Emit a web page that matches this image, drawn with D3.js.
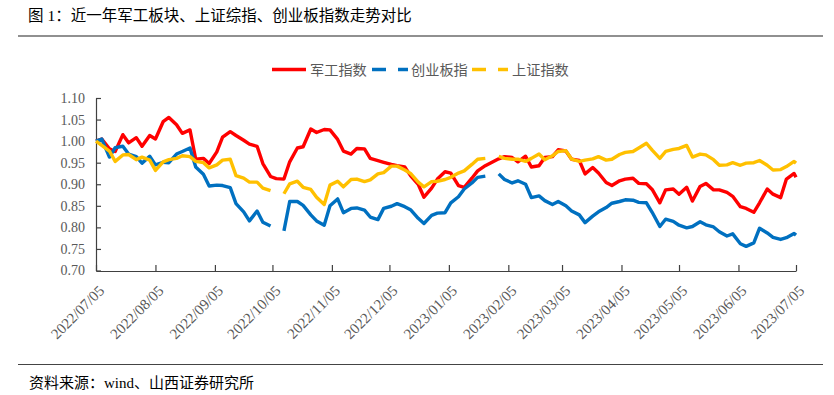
<!DOCTYPE html>
<html>
<head>
<meta charset="utf-8">
<script src="https://cdn.jsdelivr.net/npm/d3@7"></script>
<style>
  body { margin: 0; background: #fff; }
  svg { display: block; }
</style>
</head>
<body>
<div id="chart"></div>
<script>
// sample dates (Tue / Fri), null = no line drawn for that series
var dates = [
  "2022-07-05","2022-07-08","2022-07-12","2022-07-15","2022-07-19","2022-07-22","2022-07-26","2022-07-29",
  "2022-08-02","2022-08-05","2022-08-09","2022-08-12","2022-08-16","2022-08-19","2022-08-23","2022-08-26","2022-08-30",
  "2022-09-02","2022-09-06","2022-09-09","2022-09-13","2022-09-16","2022-09-20","2022-09-23","2022-09-27","2022-09-30",
  "2022-10-04","2022-10-07","2022-10-11","2022-10-14","2022-10-18","2022-10-21","2022-10-25","2022-10-28",
  "2022-11-01","2022-11-04","2022-11-08","2022-11-11","2022-11-15","2022-11-18","2022-11-22","2022-11-25","2022-11-29",
  "2022-12-02","2022-12-06","2022-12-09","2022-12-13","2022-12-16","2022-12-20","2022-12-23","2022-12-27","2022-12-30",
  "2023-01-03","2023-01-06","2023-01-10","2023-01-13","2023-01-17","2023-01-20","2023-01-24","2023-01-27","2023-01-31",
  "2023-02-03","2023-02-07","2023-02-10","2023-02-14","2023-02-17","2023-02-21","2023-02-24","2023-02-28",
  "2023-03-03","2023-03-07","2023-03-10","2023-03-14","2023-03-17","2023-03-21","2023-03-24","2023-03-28","2023-03-31",
  "2023-04-04","2023-04-07","2023-04-11","2023-04-14","2023-04-18","2023-04-21","2023-04-25","2023-04-28",
  "2023-05-02","2023-05-05","2023-05-09","2023-05-12","2023-05-16","2023-05-19","2023-05-23","2023-05-26","2023-05-30",
  "2023-06-02","2023-06-06","2023-06-09","2023-06-13","2023-06-16","2023-06-20","2023-06-23","2023-06-27","2023-06-30",
  "2023-07-04","2023-07-05"
];

// 军工指数
var junGong = [
  1.000,1.005,0.982,0.976,1.015,0.996,1.008,0.988,
  1.013,1.005,1.045,1.055,1.038,1.018,1.026,0.958,0.960,
  0.948,0.975,1.009,1.022,1.013,1.002,0.993,0.988,0.948,
  0.918,0.913,0.912,0.952,0.984,0.987,1.028,1.020,
  1.027,1.026,1.004,0.977,0.970,0.983,0.982,0.960,0.955,
  0.951,0.946,0.943,0.940,0.920,0.900,0.870,0.891,0.912,
  0.929,0.926,0.897,0.893,0.914,0.931,0.943,0.950,0.959,
  0.964,0.962,0.952,0.965,0.940,0.943,0.962,0.964,
  0.980,0.977,0.958,0.955,0.924,0.939,0.926,0.904,0.897,
  0.908,0.912,0.914,0.902,0.901,0.888,0.857,0.887,
  0.889,0.877,0.893,0.861,0.895,0.902,0.887,0.887,0.881,
  0.872,0.848,0.844,0.835,0.857,0.889,0.877,0.869,0.912,
  0.925,0.916
];

// 创业板指
var chuangYe = [
  1.000,1.005,0.963,0.985,0.988,0.970,0.964,0.949,
  0.965,0.945,0.951,0.950,0.970,0.976,0.984,0.940,0.923,
  0.896,0.898,0.897,0.892,0.855,0.836,0.815,0.838,0.812,
  0.803,null,0.792,0.860,0.860,0.851,0.829,0.815,
  0.805,0.850,0.866,0.834,0.844,0.845,0.840,0.824,0.818,
  0.844,0.849,0.855,0.848,0.841,0.821,0.809,0.828,0.833,
  0.834,0.857,0.871,0.889,0.903,0.916,0.919,null,0.924,
  0.911,0.903,0.908,0.900,0.869,0.873,0.862,0.853,
  0.860,0.850,0.838,0.829,0.811,0.826,0.836,0.846,0.856,
  0.860,0.864,0.863,0.858,0.857,0.835,0.802,0.819,
  0.814,0.805,0.799,0.802,0.813,0.806,0.801,0.790,0.780,
  0.785,0.762,0.756,0.764,0.798,0.787,0.777,0.772,0.776,
  0.786,0.782
];

// 上证指数
var shangZheng = [
  1.000,0.990,0.977,0.953,0.968,0.969,0.957,0.963,
  0.956,0.932,0.952,0.957,0.960,0.966,0.964,0.953,0.950,
  0.938,0.945,0.956,0.958,0.920,0.914,0.905,0.905,0.891,
  0.885,null,0.878,0.901,0.907,0.893,0.888,0.870,
  0.853,0.898,0.907,0.894,0.911,0.912,0.906,0.910,0.924,
  0.927,0.942,0.942,0.933,0.925,0.905,0.894,0.906,0.907,
  0.911,0.916,0.926,0.931,0.946,0.958,0.960,null,0.965,
  0.960,0.958,0.958,0.953,0.960,0.970,0.957,0.966,
  0.976,0.978,0.958,0.953,0.956,0.959,0.964,0.956,0.958,
  0.969,0.974,0.976,0.984,0.995,0.979,0.960,0.976,
  0.981,0.983,0.990,0.963,0.970,0.968,0.957,0.944,0.945,
  0.950,0.944,0.949,0.950,0.955,0.944,0.933,0.934,0.941,
  0.953,0.949
];

var seriesNames = ["军工指数", "创业板指", "上证指数"];
var seriesColors = ["#ff0000", "#0070c0", "#ffc000"];
var yTicks = [0.70, 0.75, 0.80, 0.85, 0.90, 0.95, 1.00, 1.05, 1.10];
var xTickLabels = ["2022/07/05","2022/08/05","2022/09/05","2022/10/05","2022/11/05","2022/12/05",
  "2023/01/05","2023/02/05","2023/03/05","2023/04/05","2023/05/05","2023/06/05","2023/07/05"];

var titleText = "图 1：近一年军工板块、上证综指、创业板指数走势对比";
var sourceText = "资料来源：wind、山西证券研究所";

var W = 834, H = 395;
var margin = { top: 98, right: 38, bottom: 124, left: 96 };

var parseDate = d3.timeParse("%Y-%m-%d");
var parseTick = d3.timeParse("%Y/%m/%d");
var fmtTick = d3.timeFormat("%Y/%m/%d");

var svg = d3.select("#chart").append("svg")
  .attr("width", W)
  .attr("height", H);

svg.append("rect").attr("width", W).attr("height", H).attr("fill", "#fff");

var x = d3.scaleTime()
  .domain([parseDate(dates[0]), parseDate(dates[dates.length - 1])])
  .range([margin.left, W - margin.right]);

var y = d3.scaleLinear()
  .domain([0.70, 1.10])
  .range([H - margin.bottom - 0.5, margin.top]);

var serifCJK = "'Liberation Serif', 'Noto Sans CJK SC', serif";

// title + rules
svg.append("text")
  .attr("x", 28)
  .attr("y", 21)
  .attr("font-family", serifCJK)
  .attr("font-size", "15.5px")
  .attr("fill", "#000")
  .text(titleText);

svg.append("line")
  .attr("x1", 18).attr("x2", 823)
  .attr("y1", 36).attr("y2", 36)
  .attr("stroke", "#222").attr("stroke-width", 1.2);

svg.append("line")
  .attr("x1", 18).attr("x2", 823)
  .attr("y1", 364.5).attr("y2", 364.5)
  .attr("stroke", "#444").attr("stroke-width", 1.2);

svg.append("text")
  .attr("x", 29)
  .attr("y", 388)
  .attr("font-family", serifCJK)
  .attr("font-size", "15px")
  .attr("fill", "#000")
  .text(sourceText);

// axes
var yAxis = d3.axisLeft(y)
  .tickValues(yTicks)
  .tickFormat(d3.format(".2f"))
  .tickSizeInner(-5)
  .tickSizeOuter(0)
  .tickPadding(11);

var gy = svg.append("g")
  .attr("transform", "translate(" + margin.left + ",0)")
  .call(yAxis);

var xAxis = d3.axisBottom(x)
  .tickValues(xTickLabels.map(function(s) { return parseTick(s); }))
  .tickFormat(fmtTick)
  .tickSizeInner(-6)
  .tickSizeOuter(0);

var gx = svg.append("g")
  .attr("transform", "translate(0," + (H - margin.bottom) + ")")
  .call(xAxis);

[gx, gy].forEach(function(g) {
  g.select(".domain").attr("stroke", "#404040").attr("stroke-width", 1.2);
  g.selectAll(".tick line").attr("stroke", "#404040").attr("stroke-width", 1.2);
  g.selectAll(".tick text")
    .attr("fill", "#595959")
    .attr("font-family", "'Liberation Serif', serif")
    .attr("font-size", "14px");
});

gx.selectAll("text")
  .attr("x", 0)
  .attr("y", 0)
  .attr("dy", "0.35em")
  .attr("font-size", "15px")
  .attr("text-anchor", "end")
  .attr("transform", "translate(5,17) rotate(-45)");

// lines
var allSeries = [junGong, chuangYe, shangZheng];

allSeries.forEach(function(vals, i) {
  var pts = dates.map(function(d, j) { return { date: parseDate(d), v: vals[j] }; });
  var line = d3.line()
    .defined(function(d) { return d.v != null; })
    .x(function(d) { return x(d.date); })
    .y(function(d) { return y(d.v); });
  // red series is drawn through gaps, the others break
  if (i === 0) pts = pts.filter(function(d) { return d.v != null; });
  svg.append("path")
    .datum(pts)
    .attr("fill", "none")
    .attr("stroke", seriesColors[i])
    .attr("stroke-width", 3.4)
    .attr("stroke-linejoin", "round")
    .attr("d", line);
});

// legend
var legendY = 69.5;
var legend = svg.append("g").attr("class", "legend");
var legendItems = [
  { segs: [[272, 306]], tx: 310 },
  { segs: [[372, 386], [398, 408]], tx: 411 },
  { segs: [[472, 486], [498, 508]], tx: 512 }
];
legendItems.forEach(function(it, i) {
  it.segs.forEach(function(s) {
    legend.append("line")
      .attr("x1", s[0]).attr("x2", s[1])
      .attr("y1", legendY).attr("y2", legendY)
      .attr("stroke", seriesColors[i])
      .attr("stroke-width", 3.5);
  });
  legend.append("text")
    .attr("x", it.tx)
    .attr("y", legendY)
    .attr("dy", "0.36em")
    .attr("font-family", "'Noto Sans CJK SC', sans-serif")
    .attr("font-size", "14.2px")
    .attr("fill", "#595959")
    .text(seriesNames[i]);
});
</script>
</body>
</html>
